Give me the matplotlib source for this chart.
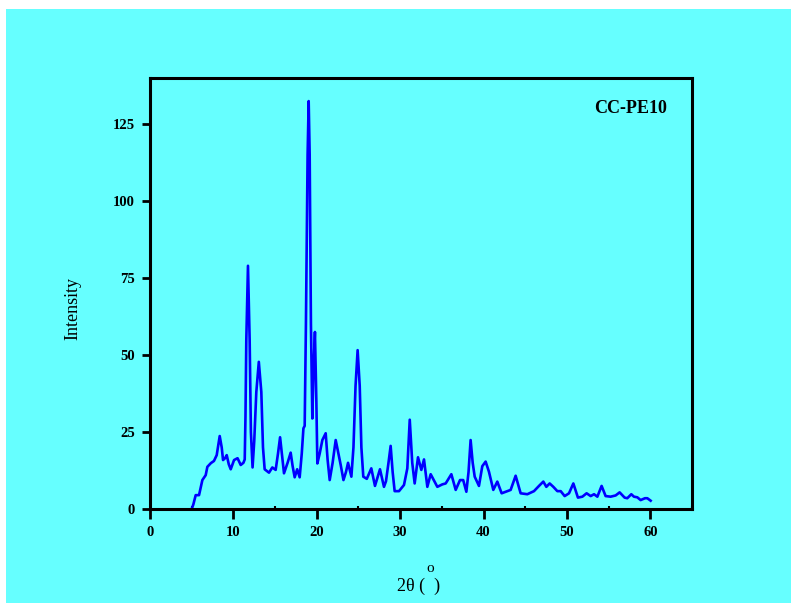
import numpy as np
import matplotlib.pyplot as plt
from matplotlib.patches import Rectangle

# XRD pattern
two_theta = [5.0, 5.2, 5.48, 5.88, 6.28, 6.68, 6.88, 7.3, 7.67, 8.0, 8.36, 8.6, 8.76, 9.0, 9.2, 9.45,
             9.68, 10.08, 10.5, 10.88, 11.2, 11.36, 11.45, 11.55, 11.75, 11.95, 12.1, 12.3, 12.5,
             12.75, 13.05, 13.35, 13.55, 13.75, 14.27, 14.67, 15.07, 15.35, 15.6, 15.85, 16.07,
             16.5, 16.87, 17.1, 17.35, 17.65, 17.95, 18.2, 18.4, 18.55, 18.7, 18.9, 19.03, 19.15,
             19.3, 19.47, 19.6, 19.78, 19.95, 20.07, 20.35, 20.67, 21.07, 21.3, 21.55, 21.9, 22.27,
             22.6, 22.87, 23.2, 23.5, 23.75, 24.15, 24.4, 24.65, 24.9, 25.15, 25.35, 25.58, 26.0,
             26.54, 26.98, 27.58, 28.06, 28.3, 28.6, 28.86, 29.1, 29.34, 29.86, 30.46, 30.86, 31.15,
             31.45, 31.74, 32.14, 32.54, 32.86, 33.26, 33.66, 34.46, 35.06, 35.46, 36.14, 36.66,
             37.18, 37.56, 37.94, 38.2, 38.45, 38.7, 38.94, 39.45, 39.85, 40.25, 40.65, 41.17,
             41.65, 42.17, 42.65, 43.25, 43.85, 44.45, 45.25, 46.05, 46.65, 47.17, 47.53, 47.93,
             48.37, 48.85, 49.25, 49.73, 50.25, 50.77, 51.32, 51.85, 52.36, 52.85, 53.25, 53.65,
             54.16, 54.64, 55.24, 55.84, 56.32, 56.92, 57.24, 57.72, 58.04, 58.44, 58.84, 59.36,
             59.64, 60.04]
intensity = [0.0, 1.5, 4.5, 4.5, 9.4, 11.0, 13.7, 14.9, 15.6, 17.5, 23.7, 20.0, 15.9, 16.5, 17.5, 14.5,
             12.9, 15.9, 16.5, 14.3, 15.0, 16.1, 30.0, 55.0, 79.0, 55.0, 25.0, 13.5, 22.0,
             38.0, 47.8, 38.0, 20.0, 12.9, 11.8, 13.5, 12.7, 18.0, 23.3, 17.0, 11.6,
             15.0, 18.3, 14.0, 10.3, 12.9, 10.3, 18.0, 26.2, 27.0, 60.0, 115.0, 132.5, 115.0,
             60.0, 29.4, 45.0, 57.5, 35.0, 14.8, 18.0, 22.4, 24.6, 16.0, 9.4, 15.0, 22.4,
             18.0, 14.3, 9.4, 12.0, 15.0, 10.5, 20.0, 40.0, 51.6, 40.0, 20.0, 10.5, 9.8,
             13.2, 7.5, 12.9, 7.2, 9.0, 15.0, 20.5, 12.0, 5.8, 5.8, 7.8, 13.2, 29.0,
             15.0, 8.3, 16.8, 12.7, 16.1, 7.2, 11.3, 7.2, 8.0, 8.3, 11.3, 6.2,
             9.4, 9.4, 5.6, 12.0, 22.4, 15.0, 10.5, 7.5, 13.9, 15.4, 12.1, 6.2,
             8.9, 5.1, 5.6, 6.2, 10.8, 5.1, 4.8, 5.8, 7.5, 8.9, 7.2, 8.3,
             7.2, 5.8, 5.8, 4.2, 5.1, 8.3, 3.7, 4.0, 5.1, 4.2, 4.8, 4.0,
             7.5, 4.2, 4.0, 4.4, 5.4, 3.7, 3.5, 4.8, 4.0, 3.8, 2.9, 3.5,
             3.5, 2.7]

x_ticks = [0, 10, 20, 30, 40, 50, 60]
y_ticks = [0, 25, 50, 75, 100, 125]

bg = '#66FFFF'
serif = ['Liberation Serif', 'DejaVu Serif']

fig = plt.figure(figsize=(7.91, 6.03), dpi=100)
fig.patch.set_facecolor('white')
fig.patches.append(Rectangle((6/791, 0), 1 - 6/791, 1 - 9/603, transform=fig.transFigure,
                             facecolor=bg, edgecolor='none', zorder=-10))

ax = fig.add_axes([150/791, 1 - 509/603, 542/791, 431/603])
ax.set_facecolor(bg)
ax.plot(two_theta, intensity, color='#0000FF', linewidth=1.9, solid_joinstyle='round')

ax.set_xlim(0, 65)
ax.set_ylim(0, 140)
ax.set_xticks(x_ticks)
ax.set_yticks(y_ticks)
ax.set_xticks([5, 15, 25, 35, 45, 55, 65], minor=True)
ax.tick_params(axis='x', which='major', direction='out', length=7, width=2, pad=5)
ax.tick_params(axis='x', which='minor', direction='in', length=2.5, width=1.5)
ax.tick_params(axis='y', which='major', direction='out', length=6, width=2, pad=5)
for lab in ax.get_xticklabels() + ax.get_yticklabels():
    lab.set_fontfamily(serif)
    lab.set_fontweight('bold')
    lab.set_fontsize(10.5)
for s in ax.spines.values():
    s.set_linewidth(2.2)

ax.text(0.819, 0.930, 'CC-PE10', transform=ax.transAxes, ha='left', va='center',
        fontsize=13, fontweight='bold', family=serif)

fig.text(73/791, 1 - 308/603, 'Intensity', rotation=90, ha='center', va='center',
         fontsize=13, family=serif)
fig.text(419/791, 1 - 586/603, '2θ (  )', ha='center', va='center', fontsize=13, family=serif)
fig.text(430/791, 1 - 569/603, 'o', ha='center', va='center', fontsize=11, family=serif)

fig.savefig('out.png', dpi=100, facecolor=fig.get_facecolor())
